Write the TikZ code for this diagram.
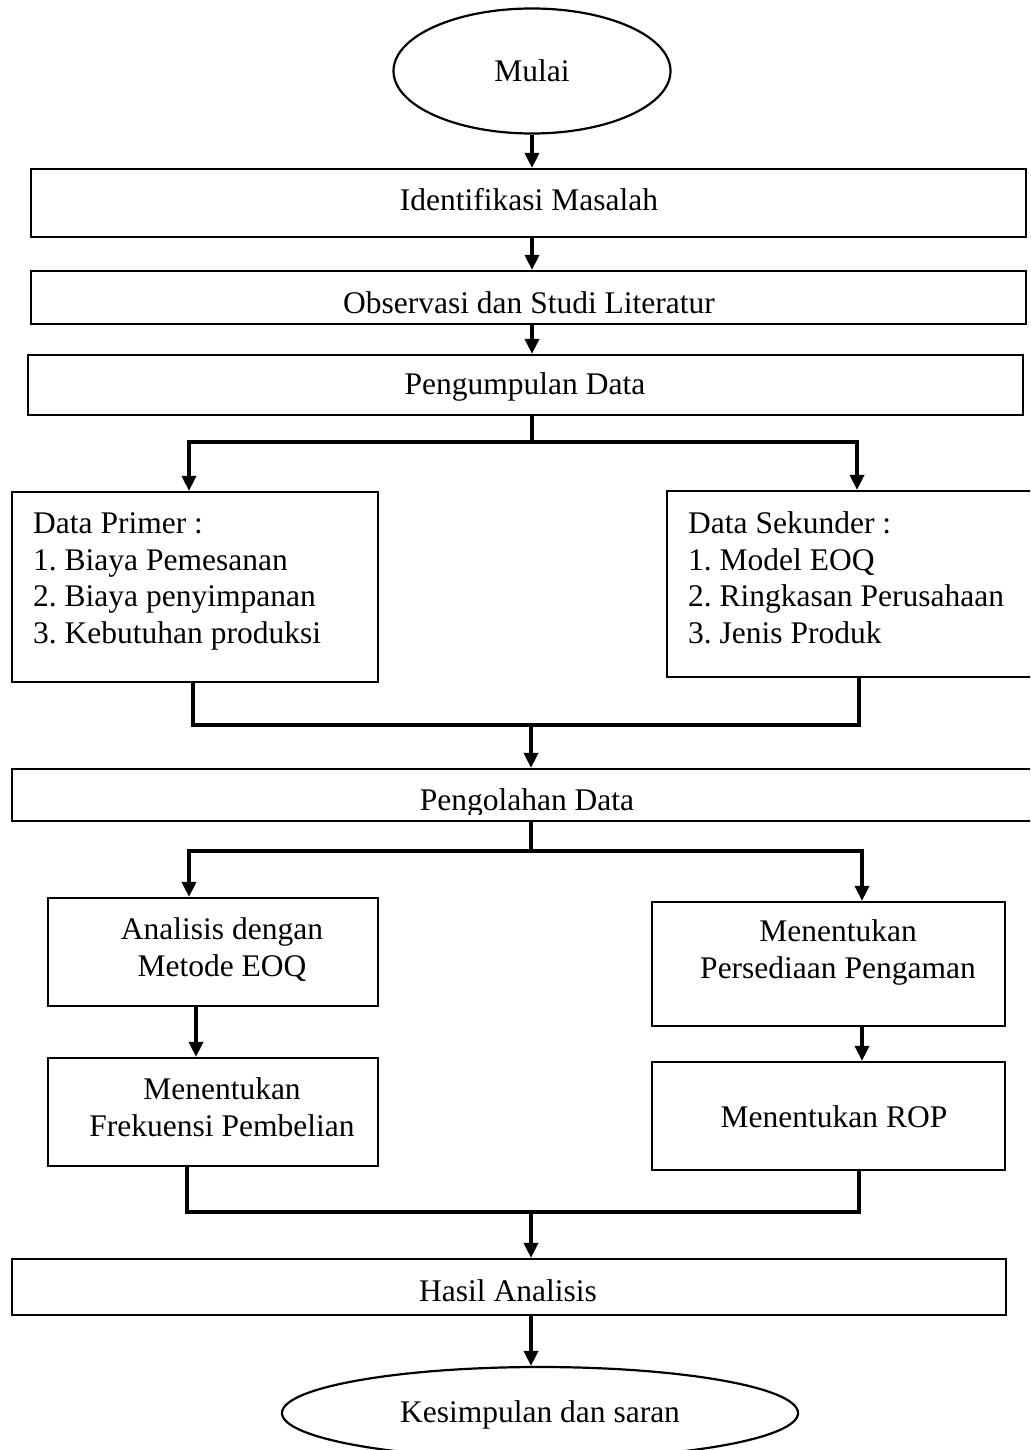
\documentclass[tikz,border=0pt]{standalone}
\usepackage{fontspec}
\setmainfont{Liberation Serif}
\usetikzlibrary{shapes.geometric,arrows.meta}
\begin{document}
\frenchspacing
\begin{tikzpicture}[x=1pt,y=-1pt,
  box/.style={draw, rectangle, line width=2.2pt, inner sep=0pt},
  oval/.style={draw, ellipse, line width=2.2pt, inner sep=0pt},
  txt/.style={inner sep=0pt, font=\fontsize{31.5}{36.5}\selectfont\frenchspacing, align=center},
  conn/.style={line width=3.5pt},
  bar/.style={line width=4.5pt, line cap=rect},
  arr/.style={line width=3.5pt, -{Triangle[length=15pt,width=14pt]}}]
\clip (0,0) rectangle (1030,1450);
\fill[white] (0,0) rectangle (1030,1450);

% ---- nodes (multi-line text: base anchor = last line baseline) ----
\node[oval, minimum width=277pt, minimum height=125pt] (mulai) at (532,71) {};
\node[txt, anchor=base] (mulait) at (532,82) {Mulai};

\node[box, minimum width=995pt, minimum height=68pt] (idm) at (528.5,203) {};
\node[txt, anchor=base] (idmt) at (529,211) {Identifikasi Masalah};

\node[box, minimum width=995pt, minimum height=53pt] (obs) at (528.5,297.5) {};
\node[txt, anchor=base] (obst) at (529,313) {Observasi dan Studi Literatur};

\node[box, minimum width=995pt, minimum height=60pt] (pgd) at (525.5,385) {};
\node[txt, anchor=base] (pgdt) at (525,394) {Pengumpulan Data};

\node[box, minimum width=366pt, minimum height=190pt] (dp) at (195,587) {};
\node[txt, align=left, anchor=base west] (dpt) at (33,643)
  {Data Primer :\\1. Biaya Pemesanan\\2. Biaya penyimpanan\\3. Kebutuhan produksi};

\node[box, minimum width=378pt, minimum height=186pt] (ds) at (856,584) {};
\node[txt, align=left, anchor=base west] (dst) at (688,643)
  {Data Sekunder :\\1. Model EOQ\\2. Ringkasan Perusahaan\\3. Jenis Produk};

\node[box, minimum width=1033pt, minimum height=52pt] (pgl) at (528.5,795) {};
\begin{scope}
  \clip (12,769) rectangle (1030,814);
  \node[txt, anchor=base] (pglt) at (527,810) {Pengolahan Data};
\end{scope}

\node[box, minimum width=330pt, minimum height=108pt] (anl) at (213,952) {};
\node[txt, anchor=base] (anlt) at (222,976) {Analisis dengan\\Metode EOQ};

\node[box, minimum width=330pt, minimum height=108pt] (frk) at (213,1112) {};
\node[txt, anchor=base] (frkt) at (222,1136) {Menentukan\\Frekuensi Pembelian};

\node[box, minimum width=353pt, minimum height=124pt] (psd) at (828.5,964) {};
\node[txt, anchor=base] (psdt) at (838,978) {Menentukan\\Persediaan Pengaman};

\node[box, minimum width=353pt, minimum height=108pt] (rop) at (828.5,1116) {};
\node[txt, anchor=base] (ropt) at (834,1127) {Menentukan ROP};

\node[box, minimum width=994pt, minimum height=56pt] (has) at (509,1287) {};
\node[txt, anchor=base] (hast) at (508,1301) {Hasil Analisis};

\node[oval, minimum width=516pt, minimum height=92pt] (kes) at (540,1413) {};
\node[txt, anchor=base] (kest) at (540,1422) {Kesimpulan dan saran};

% ---- junction coordinates ----
\coordinate (c0) at (532,0);
\coordinate (j1) at (532,442);
\coordinate (j1l) at (189,442);
\coordinate (j1r) at (857,442);
\coordinate (dpo) at (193,0);
\coordinate (dso) at (859,0);
\coordinate (j2) at (531,725);
\coordinate (j2l) at (193,725);
\coordinate (j2r) at (859,725);
\coordinate (j3) at (531,851);
\coordinate (j3l) at (189,851);
\coordinate (j3r) at (862,851);
\coordinate (ax) at (196,0);
\coordinate (frx) at (187,0);
\coordinate (rpx) at (859,0);
\coordinate (j4) at (531,1212);
\coordinate (j4l) at (187,1212);
\coordinate (j4r) at (859,1212);

% ---- connectors ----
\draw[arr] (mulai.south) -- (mulai.south |- idm.north);
\draw[arr] (idm.south -| c0) -- (obs.north -| c0);
\draw[arr] (obs.south -| c0) -- (pgd.north -| c0);

\draw[conn] (pgd.south -| j1) -- (j1);
\draw[bar] (j1l) -- (j1r);
\draw[arr] (j1l) -- (j1l |- dp.north);
\draw[arr] (j1r) -- (j1r |- ds.north);

\draw[conn] (dp.south -| dpo) -- (j2l);
\draw[conn] (ds.south -| dso) -- (j2r);
\draw[bar] (j2l) -- (j2r);
\draw[arr] (j2) -- (j2 |- pgl.north);

\draw[conn] (pgl.south -| j3) -- (j3);
\draw[bar] (j3l) -- (j3r);
\draw[arr] (j3l) -- (j3l |- anl.north);
\draw[arr] (j3r) -- (j3r |- psd.north);

\draw[arr] (anl.south -| ax) -- (frk.north -| ax);
\draw[arr] (psd.south -| j3r) -- (rop.north -| j3r);

\draw[conn] (frk.south -| frx) -- (j4l);
\draw[conn] (rop.south -| rpx) -- (j4r);
\draw[bar] (j4l) -- (j4r);
\draw[arr] (j4) -- (j4 |- has.north);
\draw[arr] (has.south -| j4) -- (kes.north -| j4);
\end{tikzpicture}
\end{document}
